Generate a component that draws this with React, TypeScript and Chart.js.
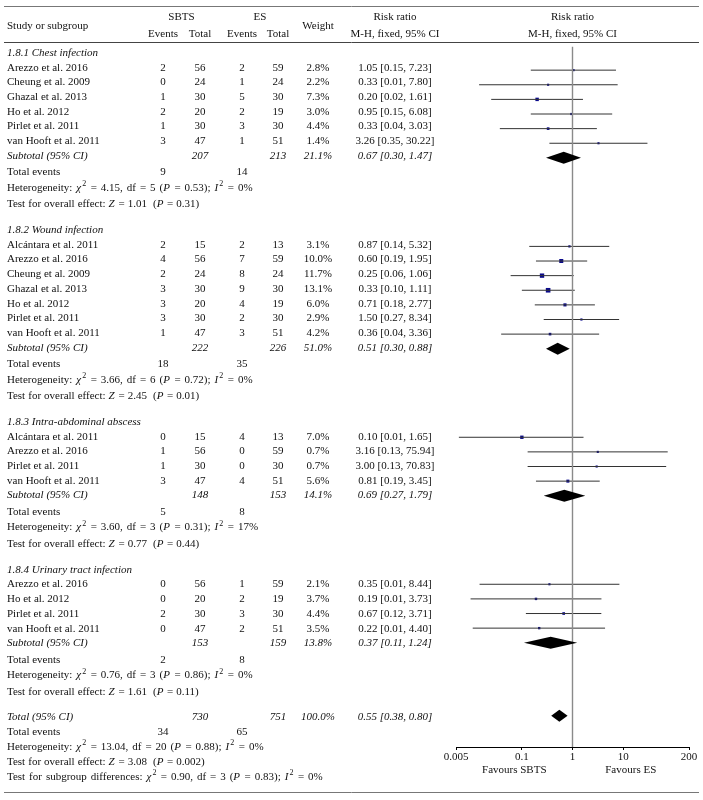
import React, { useEffect, useRef } from "react";
import { Chart, registerables } from "chart.js";

Chart.register(...registerables);

// ---------------- DATA ----------------
const subgroupNames = [
  "1.8.1 Chest infection",
  "1.8.2 Wound infection",
  "1.8.3 Intra-abdominal abscess",
  "1.8.4 Urinary tract infection",
];

const studyNames = [
  ["Arezzo et al. 2016", "Cheung et al. 2009", "Ghazal et al. 2013", "Ho et al. 2012", "Pirlet et al. 2011", "van Hooft et al. 2011"],
  ["Alcántara et al. 2011", "Arezzo et al. 2016", "Cheung et al. 2009", "Ghazal et al. 2013", "Ho et al. 2012", "Pirlet et al. 2011", "van Hooft et al. 2011"],
  ["Alcántara et al. 2011", "Arezzo et al. 2016", "Pirlet et al. 2011", "van Hooft et al. 2011"],
  ["Arezzo et al. 2016", "Ho et al. 2012", "Pirlet et al. 2011", "van Hooft et al. 2011"],
];

const sbtsEvents = [[2, 0, 1, 2, 1, 3], [2, 4, 2, 3, 3, 3, 1], [0, 1, 1, 3], [0, 0, 2, 0]];
const sbtsTotal = [[56, 24, 30, 20, 30, 47], [15, 56, 24, 30, 20, 30, 47], [15, 56, 30, 47], [56, 20, 30, 47]];
const esEvents = [[2, 1, 5, 2, 3, 1], [2, 7, 8, 9, 4, 2, 3], [4, 0, 0, 4], [1, 2, 3, 2]];
const esTotal = [[59, 24, 30, 19, 30, 51], [13, 59, 24, 30, 19, 30, 51], [13, 59, 30, 51], [59, 19, 30, 51]];
const weights = [[2.8, 2.2, 7.3, 3.0, 4.4, 1.4], [3.1, 10.0, 11.7, 13.1, 6.0, 2.9, 4.2], [7.0, 0.7, 0.7, 5.6], [2.1, 3.7, 4.4, 3.5]];
const riskRatio = [[1.05, 0.33, 0.2, 0.95, 0.33, 3.26], [0.87, 0.6, 0.25, 0.33, 0.71, 1.5, 0.36], [0.1, 3.16, 3.0, 0.81], [0.35, 0.19, 0.67, 0.22]];
const ciLower = [[0.15, 0.0143, 0.0248, 0.15, 0.0367, 0.35], [0.14, 0.19, 0.06, 0.1, 0.18, 0.27, 0.039], [0.0057, 0.13, 0.13, 0.19], [0.0146, 0.0097, 0.12, 0.0107]];
const ciUpper = [[7.23, 7.8, 1.61, 6.08, 3.03, 30.22], [5.32, 1.95, 1.06, 1.11, 2.77, 8.34, 3.36], [1.65, 75.94, 70.83, 3.45], [8.44, 3.73, 3.71, 4.4]];

const subSbtsTotal = [207, 222, 148, 153];
const subEsTotal = [213, 226, 153, 159];
const subWeight = [21.1, 51.0, 14.1, 13.8];
const subRR = [0.67, 0.51, 0.69, 0.37];
const subLower = [0.3, 0.3, 0.27, 0.11];
const subUpper = [1.47, 0.88, 1.79, 1.24];
const subSbtsEvents = [9, 18, 5, 2];
const subEsEvents = [14, 35, 8, 8];
const hetChi2 = [4.15, 3.66, 3.6, 0.76];
const hetDf = [5, 6, 3, 3];
const hetP = [0.53, 0.72, 0.31, 0.86];
const hetI2 = [0, 0, 17, 0];
const testZ = [1.01, 2.45, 0.77, 1.61];
const testP = [0.31, 0.01, 0.44, 0.11];

const totalSbts = 730;
const totalEs = 751;
const totalWeight = 100.0;
const totalRR = 0.55;
const totalLower = 0.38;
const totalUpper = 0.8;
const totalSbtsEvents = 34;
const totalEsEvents = 65;
const totalHet = { chi2: 13.04, df: 20, p: 0.88, i2: 0 };
const totalTest = { z: 3.08, p: 0.002 };
const subgroupDiff = { chi2: 0.9, df: 3, p: 0.83, i2: 0 };

const axisTicks = [0.005, 0.1, 1, 10, 200];
const axisMin = 0.005;
const axisMax = 200;

// ---------------- LAYOUT ----------------
const FONT = '"Liberation Serif", "DejaVu Serif", "Times New Roman", serif';
const FS = 11;
const TEXT = "#111";
const COL = { name: 7, sE: 163, sT: 200, eE: 242, eT: 278, w: 318, rr: 395 };
const GAP = { first: 52, headToStudy: 14.5, step: 14.7, subToEv: 16.5, evToHet: 15.5, hetToTest: 16.5, testToHead: 26, testToTotal: 25, totalStep: 15 };
const AXIS_Y = 747;
const HEADER_LINE_Y = 43;

type Seg = { t: string; it?: boolean; sup?: boolean };

const f2 = (v: number) => v.toFixed(2);
const pTxt = (p: number) => (p < 0.01 ? p.toFixed(3) : p.toFixed(2));
const rrTxt = (r: number, l: number, u: number) => `${f2(r)} [${f2(l)}, ${f2(u)}]`;
const hetSegs = (c: number, df: number, p: number, i2: number, label = "Heterogeneity: "): Seg[] => [
  { t: label },
  { t: "χ", it: true },
  { t: "2", sup: true },
  { t: ` = ${f2(c)}, df = ${df} (` },
  { t: "P", it: true },
  { t: ` = ${pTxt(p)}); ` },
  { t: "I", it: true },
  { t: "2", sup: true },
  { t: ` = ${i2}%` },
];
const testSegs = (z: number, p: number): Seg[] => [
  { t: "Test for overall effect: " },
  { t: "Z", it: true },
  { t: ` = ${f2(z)}  (` },
  { t: "P", it: true },
  { t: ` = ${pTxt(p)})` },
];

// compute row positions
const headY: number[] = [];
const studyY: number[][] = [];
const subY: number[] = [];
const evY: number[] = [];
const hetY: number[] = [];
const testY: number[] = [];
let yy = GAP.first;
subgroupNames.forEach((_, g) => {
  headY.push(yy);
  yy += GAP.headToStudy;
  const arr: number[] = [];
  studyNames[g].forEach(() => {
    arr.push(yy);
    yy += GAP.step;
  });
  studyY.push(arr);
  subY.push(yy);
  yy += GAP.subToEv;
  evY.push(yy);
  yy += GAP.evToHet;
  hetY.push(yy);
  yy += GAP.hetToTest;
  testY.push(yy);
  yy += g === subgroupNames.length - 1 ? GAP.testToTotal : GAP.testToHead;
});
const totY = yy;
const totEvY = totY + GAP.totalStep;
const totHetY = totEvY + GAP.totalStep;
const totTestY = totHetY + GAP.totalStep;
const diffY = totTestY + GAP.totalStep;

function drawRich(
  ctx: CanvasRenderingContext2D,
  segs: Seg[],
  x: number,
  y: number,
  align: "left" | "center",
  italic = false,
  spaceExtra = 0
) {
  const fontFor = (s: Seg) => `${s.it || italic ? "italic " : ""}${s.sup ? 8 : FS}px ${FONT}`;
  const widthOf = (s: Seg) => {
    const spaces = (s.t.match(/ /g) || []).length;
    return ctx.measureText(s.t).width + spaces * spaceExtra + (s.sup ? 1 : 0) + (s.it && !italic ? 0.6 : 0);
  };
  let w = 0;
  for (const s of segs) {
    ctx.font = fontFor(s);
    w += widthOf(s);
  }
  let cx = align === "center" ? x - w / 2 : x;
  ctx.textAlign = "left";
  ctx.textBaseline = "alphabetic";
  ctx.fillStyle = TEXT;
  for (const s of segs) {
    ctx.font = fontFor(s);
    const dy = y + 4 - (s.sup ? 4.5 : 0);
    if (spaceExtra > 0 && s.t.includes(" ")) {
      // draw word by word to widen spaces a little
      const parts = s.t.split(" ");
      let px = cx;
      const sp = ctx.measureText(" ").width + spaceExtra;
      parts.forEach((p, k) => {
        if (p) ctx.fillText(p, px, dy);
        px += ctx.measureText(p).width + (k < parts.length - 1 ? sp : 0);
      });
    } else {
      ctx.fillText(s.t, cx + (s.sup ? 0.5 : 0), dy);
    }
    cx += widthOf(s);
  }
}
const txt = (ctx: CanvasRenderingContext2D, t: string, x: number, y: number, align: "left" | "center", italic = false) =>
  drawRich(ctx, [{ t }], x, y, align, italic);

const tablePlugin = {
  id: "forestTable",
  afterDatasetsDraw(chart: any) {
    const ctx: CanvasRenderingContext2D = chart.ctx;
    const xs = chart.scales.x;
    const ys = chart.scales.y;
    ctx.save();
    const diamond = (r: number, l: number, u: number, yv: number) => {
      const py = ys.getPixelForValue(yv);
      ctx.beginPath();
      ctx.moveTo(xs.getPixelForValue(l), py);
      ctx.lineTo(xs.getPixelForValue(r), py - 6);
      ctx.lineTo(xs.getPixelForValue(u), py);
      ctx.lineTo(xs.getPixelForValue(r), py + 6);
      ctx.closePath();
      ctx.fillStyle = "#000";
      ctx.fill();
    };
    subRR.forEach((r, g) => diamond(r, subLower[g], subUpper[g], subY[g]));
    diamond(totalRR, totalLower, totalUpper, totY);
    ctx.restore();
  },
  afterDraw(chart: any) {
    const ctx: CanvasRenderingContext2D = chart.ctx;
    const xs = chart.scales.x;
    const W = chart.width;
    ctx.save();
    const rule = (y: number, color: string) => {
      ctx.beginPath();
      ctx.moveTo(4, y + 0.5);
      ctx.lineTo(W - 4, y + 0.5);
      ctx.strokeStyle = color;
      ctx.lineWidth = 1;
      ctx.stroke();
    };
    rule(6, "#777");
    rule(HEADER_LINE_Y - 1, "#444");
    rule(792, "#777");

    txt(ctx, "Study or subgroup", COL.name, 25, "left");
    txt(ctx, "SBTS", (COL.sE + COL.sT) / 2, 16, "center");
    txt(ctx, "ES", (COL.eE + COL.eT) / 2, 16, "center");
    txt(ctx, "Events", COL.sE, 33, "center");
    txt(ctx, "Total", COL.sT, 33, "center");
    txt(ctx, "Events", COL.eE, 33, "center");
    txt(ctx, "Total", COL.eT, 33, "center");
    txt(ctx, "Weight", COL.w, 25, "center");
    txt(ctx, "Risk ratio", COL.rr, 16, "center");
    txt(ctx, "M-H, fixed, 95% CI", COL.rr, 33, "center");
    const x1 = xs.getPixelForValue(1);
    txt(ctx, "Risk ratio", x1, 16, "center");
    txt(ctx, "M-H, fixed, 95% CI", x1, 33, "center");

    const SX = 1.2;
    subgroupNames.forEach((name, g) => {
      txt(ctx, name, COL.name, headY[g], "left", true);
      studyNames[g].forEach((s, i) => {
        const y = studyY[g][i];
        txt(ctx, s, COL.name, y, "left");
        txt(ctx, String(sbtsEvents[g][i]), COL.sE, y, "center");
        txt(ctx, String(sbtsTotal[g][i]), COL.sT, y, "center");
        txt(ctx, String(esEvents[g][i]), COL.eE, y, "center");
        txt(ctx, String(esTotal[g][i]), COL.eT, y, "center");
        txt(ctx, `${weights[g][i].toFixed(1)}%`, COL.w, y, "center");
        txt(ctx, rrTxt(riskRatio[g][i], ciLower[g][i], ciUpper[g][i]), COL.rr, y, "center");
      });
      const sy = subY[g];
      txt(ctx, "Subtotal (95% CI)", COL.name, sy, "left", true);
      txt(ctx, String(subSbtsTotal[g]), COL.sT, sy, "center", true);
      txt(ctx, String(subEsTotal[g]), COL.eT, sy, "center", true);
      txt(ctx, `${subWeight[g].toFixed(1)}%`, COL.w, sy, "center", true);
      txt(ctx, rrTxt(subRR[g], subLower[g], subUpper[g]), COL.rr, sy, "center", true);
      txt(ctx, "Total events", COL.name, evY[g], "left");
      txt(ctx, String(subSbtsEvents[g]), COL.sE, evY[g], "center");
      txt(ctx, String(subEsEvents[g]), COL.eE, evY[g], "center");
      drawRich(ctx, hetSegs(hetChi2[g], hetDf[g], hetP[g], hetI2[g]), COL.name, hetY[g], "left", false, SX);
      drawRich(ctx, testSegs(testZ[g], testP[g]), COL.name, testY[g], "left", false, 0.3);
    });

    txt(ctx, "Total (95% CI)", COL.name, totY, "left", true);
    txt(ctx, String(totalSbts), COL.sT, totY, "center", true);
    txt(ctx, String(totalEs), COL.eT, totY, "center", true);
    txt(ctx, `${totalWeight.toFixed(1)}%`, COL.w, totY, "center", true);
    txt(ctx, rrTxt(totalRR, totalLower, totalUpper), COL.rr, totY, "center", true);
    txt(ctx, "Total events", COL.name, totEvY, "left");
    txt(ctx, String(totalSbtsEvents), COL.sE, totEvY, "center");
    txt(ctx, String(totalEsEvents), COL.eE, totEvY, "center");
    drawRich(ctx, hetSegs(totalHet.chi2, totalHet.df, totalHet.p, totalHet.i2), COL.name, totHetY, "left", false, SX);
    drawRich(ctx, testSegs(totalTest.z, totalTest.p), COL.name, totTestY, "left", false, 0.3);
    drawRich(
      ctx,
      hetSegs(subgroupDiff.chi2, subgroupDiff.df, subgroupDiff.p, subgroupDiff.i2, "Test for subgroup differences: "),
      COL.name,
      diffY,
      "left",
      false,
      SX
    );

    txt(ctx, "Favours SBTS", xs.getPixelForValue(Math.sqrt(axisMin * 1)), 769, "center");
    txt(ctx, "Favours ES", xs.getPixelForValue(Math.sqrt(axisMax * 1)), 769, "center");
    ctx.restore();
  },
};

function buildDatasets() {
  const ds: any[] = [];
  ds.push({
    type: "line",
    data: [
      { x: 1, y: HEADER_LINE_Y },
      { x: 1, y: AXIS_Y },
    ],
    borderColor: "#8a8a8a",
    borderWidth: 1.4,
    pointRadius: 0,
    fill: false,
  });
  studyNames.forEach((names, g) =>
    names.forEach((_, i) => {
      ds.push({
        type: "line",
        data: [
          { x: ciLower[g][i], y: studyY[g][i] },
          { x: ciUpper[g][i], y: studyY[g][i] },
        ],
        borderColor: "#333",
        borderWidth: 1,
        pointRadius: 0,
        fill: false,
      });
    })
  );
  const pts: any[] = [];
  const radii: number[] = [];
  studyNames.forEach((names, g) =>
    names.forEach((_, i) => {
      pts.push({ x: riskRatio[g][i], y: studyY[g][i] });
      radii.push(Math.max(1.5, Math.sqrt(weights[g][i]) * 0.9));
    })
  );
  ds.push({
    type: "scatter",
    data: pts,
    pointStyle: "rect",
    pointRadius: radii,
    pointBackgroundColor: "#0a0a8c",
    pointBorderWidth: 0,
  });
  return ds;
}

export default function App() {
  const ref = useRef<HTMLCanvasElement>(null);
  useEffect(() => {
    document.body.style.margin = "0";
    const canvas = ref.current!;
    const chart = new Chart(canvas, {
      type: "scatter",
      data: { datasets: buildDatasets() },
      options: {
        animation: false,
        responsive: false,
        maintainAspectRatio: false,
        devicePixelRatio: 1,
        layout: { padding: { left: 456, right: 14, top: 0, bottom: 0 } },
        plugins: { legend: { display: false }, tooltip: { enabled: false } },
        scales: {
          x: {
            type: "logarithmic",
            min: axisMin,
            max: axisMax,
            position: "bottom",
            afterBuildTicks: (s: any) => {
              s.ticks = axisTicks.map((v) => ({ value: v }));
            },
            afterFit: (s: any) => {
              s.height = 800 - AXIS_Y;
            },
            grid: { drawOnChartArea: false, drawTicks: true, tickLength: 3, color: "#000" },
            border: { display: true, color: "#000", width: 1 },
            ticks: {
              font: { family: FONT, size: FS },
              color: TEXT,
              padding: 1,
              maxRotation: 0,
              autoSkip: false,
              callback: (v: any) => String(v),
            },
          },
          y: { type: "linear", min: 0, max: AXIS_Y, reverse: true, display: false },
        },
      } as any,
      plugins: [tablePlugin],
    });
    return () => chart.destroy();
  }, []);
  return <canvas ref={ref} width={703} height={800} style={{ display: "block", width: 703, height: 800 }} />;
}
